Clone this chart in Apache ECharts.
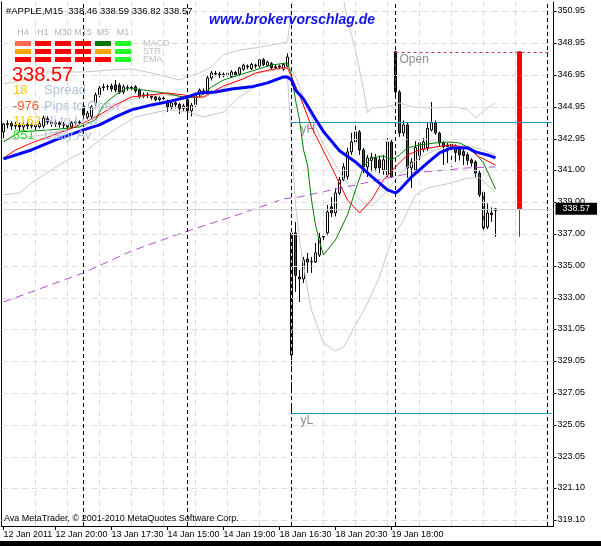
<!DOCTYPE html>
<html><head><meta charset="utf-8">
<script src="https://cdn.jsdelivr.net/npm/echarts@6/dist/echarts.min.js"></script>
<style>html,body{margin:0;padding:0;background:#fff;}#c{width:601px;height:546px;}</style>
</head><body><div id="c"></div>
<script>
// ---------- DATA ----------
const symbolTitle = '#APPLE,M15';
const lastBar = [338.46, 338.59, 336.82, 338.57]; // O H L C of the last bar
const nSlots = 138;
// candles: [open, close, low, high]
const ohlc = [
[343.38,343.88,343.00,343.95],[343.85,343.90,343.60,344.10],[343.90,343.75,343.50,344.05],[343.75,343.80,343.55,344.00],
[343.80,343.70,343.45,343.95],[343.70,343.85,343.50,344.00],[343.85,343.75,343.55,344.05],[343.75,343.80,343.60,343.95],
[343.80,343.70,343.50,343.95],[343.70,343.90,343.60,344.05],[343.75,344.25,343.60,344.40],[344.20,344.00,343.85,344.35],
[344.00,343.90,343.70,344.10],[343.90,343.95,343.70,344.10],[343.95,343.85,343.65,344.05],[343.85,343.80,343.60,344.00],
[343.80,343.70,343.55,343.90],[343.70,343.95,343.60,344.05],[343.95,344.00,343.80,344.15],[344.00,343.95,343.80,344.10],
[345.00,344.45,344.30,345.10],[344.30,344.55,344.10,344.70],[344.35,344.95,344.20,345.05],[345.20,345.70,345.00,345.85],
[345.70,346.13,345.55,346.30],[346.15,346.20,345.95,346.40],[346.20,346.22,346.00,346.35],[346.26,346.07,345.90,346.40],
[346.32,346.00,345.85,346.63],[346.30,345.88,345.75,346.45],[345.88,346.20,345.75,346.35],[346.15,346.13,345.95,346.30],
[346.13,346.16,346.00,346.30],[346.20,345.95,345.80,346.30],[346.00,345.57,345.45,346.10],[345.60,345.70,345.50,345.85],
[345.70,345.65,345.50,345.85],[345.65,345.55,345.40,345.75],[345.57,345.40,345.30,345.65],[345.40,345.50,345.30,345.60],
[345.50,345.45,345.30,345.60],[345.32,344.94,344.63,345.40],[344.95,345.20,344.80,345.30],[345.20,345.10,344.85,345.30],
[345.10,344.85,344.50,345.20],[344.85,345.00,344.70,345.15],[345.40,344.70,344.30,345.50],[344.70,345.05,344.35,345.20],
[345.10,345.80,344.95,345.95],[345.75,346.00,345.60,346.10],[345.95,345.90,345.70,346.10],[345.90,346.76,345.80,346.90],
[346.76,347.07,346.60,347.20],[347.05,347.00,346.85,347.20],[347.00,346.95,346.75,347.15],[346.95,346.98,346.80,347.10],
[346.98,347.05,346.85,347.20],[346.85,347.13,346.75,347.25],[347.10,346.95,346.85,347.20],[347.00,347.38,346.90,347.45],
[347.30,347.55,347.20,347.65],[347.50,347.45,347.30,347.60],[347.35,347.60,347.25,347.70],[347.55,347.50,347.35,347.65],
[347.50,347.89,347.40,347.95],[347.90,347.60,347.50,348.00],[347.55,347.75,347.45,347.85],[347.65,347.40,347.30,347.75],
[347.40,347.45,347.30,347.60],[347.45,347.50,347.30,347.60],[347.30,347.60,347.20,347.70],[347.50,348.07,347.45,348.30],
[329.42,337.06,325.79,337.30],[337.06,334.40,333.37,337.75],[334.30,334.18,332.74,334.74],[334.18,335.37,333.93,335.56],
[335.43,335.24,334.56,335.81],[335.25,335.27,334.56,335.56],[335.24,335.81,335.18,336.43],[335.68,336.75,335.56,337.06],
[336.80,336.85,336.43,337.10],[337.06,338.37,336.90,338.81],[338.69,338.31,338.06,339.30],[338.31,339.56,338.10,339.87],
[339.56,340.38,339.44,340.56],[340.38,341.19,340.30,341.44],[340.60,342.13,340.40,342.38],[342.13,342.75,341.94,343.32],
[342.75,343.38,342.50,343.94],[343.38,342.25,341.94,343.50],[342.25,341.19,340.81,342.38],[341.19,341.75,340.56,341.94],
[341.60,341.80,340.90,342.07],[341.75,341.13,340.90,342.00],[341.63,341.13,340.80,341.90],[341.00,341.63,340.70,341.94],
[340.69,342.75,340.56,343.00],[342.75,340.56,340.50,342.90],[348.39,345.88,345.50,348.45],[345.88,343.32,343.07,346.00],
[343.32,343.82,343.10,344.10],[343.82,341.13,340.50,344.00],[341.13,341.50,339.87,341.75],[341.00,342.40,340.70,342.80],
[341.90,342.70,341.40,342.90],[342.30,342.75,342.10,343.00],[342.40,343.60,342.20,344.00],[343.50,343.95,343.40,345.25],
[343.94,343.32,343.20,344.10],[343.30,342.69,342.50,343.40],[342.70,342.45,341.31,342.80],[342.45,342.55,341.44,342.70],
[342.60,342.40,341.19,342.75],[342.45,342.10,341.50,342.60],[342.30,341.95,341.60,342.45],[342.15,341.90,341.30,342.30],
[341.95,341.60,341.30,342.10],[341.63,341.44,341.20,341.75],[341.50,340.81,340.56,341.60],[340.81,339.44,339.30,340.95],
[339.60,337.37,337.20,339.75],[337.43,338.31,337.30,338.90],[338.30,338.20,337.75,338.65],[338.46,338.57,336.82,338.59]
];
// indicator lines: [barIndex, price]
const blueEMA = [[0,341.69],[7,342.25],[13,342.88],[20,343.51],[24,343.82],[28,344.32],[32,344.76],[37,345.07],[41,345.26],[46,345.57],[49,345.82],[53,345.88],[57,346.07],[62,346.20],[66,346.45],[70,346.82],[71,346.82],[72,346.63],[73,346.01],[75,345.44],[78,344.19],[80,343.40],[84,342.20],[88,341.50],[92,340.60],[96,339.75],[98,339.56],[99,339.75],[102,340.56],[106,341.44],[109,342.07],[112,342.38],[116,342.38],[118,342.13],[121,341.94],[123,341.75]];
const redEMA = [[0,341.75],[3,342.25],[7,342.69],[16,343.51],[20,343.94],[24,344.44],[28,345.07],[32,345.57],[37,345.70],[41,345.82],[45,345.70],[47,345.57],[50,345.57],[55,346.26],[60,346.70],[63,347.07],[69,347.38],[71,347.38],[74,345.70],[77,343.69],[82,341.19],[86,339.12],[89,338.31],[92,339.12],[95,340.38],[98,341.19],[101,341.94],[104,342.25],[108,342.44],[112,342.57],[116,342.38],[119,341.81],[123,341.31]];
const greenMA = [[0,342.75],[4,343.38],[12,343.51],[19,343.69],[23,344.13],[25,345.07],[28,345.70],[31,346.13],[35,346.01],[40,345.82],[46,345.51],[49,345.57],[52,346.20],[55,346.63],[59,346.95],[63,347.26],[67,347.57],[71,347.70],[72,346.95],[73,345.38],[74,344.13],[75,342.25],[76,341.31],[77,339.12],[78,337.56],[79,336.50],[80,335.68],[81,336.00],[83,336.62],[86,338.19],[88,339.75],[90,341.19],[92,341.75],[95,341.88],[97,341.63],[99,341.94],[101,342.38],[104,342.57],[108,342.69],[111,342.75],[114,342.69],[117,342.31],[120,341.44],[123,339.81]];
const bbUpper = [[0,346.38],[5,346.63],[10,347.13],[20,347.13],[27,347.26],[32,347.32],[37,347.07],[41,346.82],[44,346.63],[46,346.82],[49,347.07],[52,347.45],[55,348.20],[59,348.51],[63,348.64],[67,348.82],[71,349.01],[72,351.14],[73,353.20],[80,355.40],[84,352.90],[86,350.39],[88,348.51],[90,346.01],[91,344.57],[92,344.88],[96,344.94],[99,345.19],[102,344.94],[106,344.88],[113,344.94],[116,344.76],[118,344.26],[121,344.88],[123,345.19]];
const bbMiddle = [[0,342.88],[10,343.19],[20,343.76],[25,344.44],[30,345.26],[35,345.63],[40,345.70],[46,345.57],[50,345.51],[55,346.13],[60,346.76],[65,347.13],[71,347.38],[72,347.26],[73,346.82],[76,344.88],[80,342.57],[84,340.88],[88,339.44],[90,338.94],[92,338.75],[95,339.44],[98,340.38],[100,341.00],[104,341.75],[108,342.25],[112,342.44],[116,342.50],[120,342.25],[123,341.94]];
const bbLower = [[0,339.44],[4,339.56],[7,340.19],[12,341.00],[16,341.63],[21,342.25],[25,343.07],[33,344.32],[41,344.76],[46,344.63],[50,344.32],[55,344.63],[59,345.57],[63,346.20],[68,346.63],[71,346.76],[72,342.88],[73,338.81],[74,336.62],[76,333.49],[77,332.24],[80,330.17],[83,329.67],[85,329.92],[87,330.80],[91,332.68],[94,334.31],[97,336.62],[100,337.87],[103,339.44],[106,339.87],[112,340.19],[116,340.50],[119,340.50],[123,339.62]];
const slowMA = [[0,332.74],[7,333.37],[20,334.56],[32,335.93],[46,337.18],[57,338.06],[70,339.19],[74,339.31],[82,339.75],[94,340.38],[102,340.81],[111,341.00],[116,341.13],[123,341.19]];
// daily candle drawn at the right
const dailyIdx = 129;
const dailyOHLC = [348.39, 338.57, 336.82, 348.45];
// levels
const dayOpen = 348.39, yHigh = 344.00, yLow = 325.79;
const levelStart = 72, openStart = 98;
const separators = [20, 46, 72, 98, 136];
// axis ticks
const yTicks = [350.95,348.95,346.95,344.95,342.95,341.00,339.00,337.00,335.00,333.00,331.05,329.05,327.05,325.05,323.05,321.10,319.10];
const xLabelIdx = [0, 13, 27, 41, 55, 69, 83, 97];
const xLabels = ['12 Jan 2011','12 Jan 20:00','13 Jan 17:30','14 Jan 15:00','14 Jan 19:00','18 Jan 16:30','18 Jan 20:30','19 Jan 18:00'];
// info panel
const tfNames = ['H4','H1','M30','M15','M5','M1'];
const sigRows = ['MACD','STR','EMA'];
const sigColors = [
 ['#ff6a50','#ff0000','#ff0000','#ff0000','#007800','#22ff22'],
 ['#ffa500','#ff0000','#ff0000','#ff0000','#ffa500','#22ff22'],
 ['#ff0000','#ff0000','#ff0000','#ff0000','#ff0000','#22ff22']];
const infoValues = ['18','-976','1162','851'];
const infoLabels = ['Spread','Pips to Open','Hi to Low','Daily Av'];
const infoColors = ['#ffc800','#ff5a1e','#ffc800','#2ee62e'];
const website = 'www.brokervorschlag.de';
const copyright = 'Ava MetaTrader, \u00a9 2001-2010 MetaQuotes Software Corp.';

// ---------- CHART ----------
const FF = '"Liberation Sans", Arial, sans-serif';
const cats = Array.from({length: nSlots}, (_, i) => String(i));
const gridX = [];
for (let i = 8; i < nSlots; i += 8) gridX.push(i);
const lastClose = lastBar[3];
const dailyData = cats.map((_, i) => i === dailyIdx ? dailyOHLC : '-');
const isLbl = (i) => xLabelIdx.indexOf(i) >= 0;

function lineSeries(data, color, width, z, type) {
  return {type: 'line', data: data, symbol: 'none', showSymbol: false, z: z, silent: true,
    lineStyle: {color: color, width: width, type: type || 'solid'}, emphasis: {disabled: true}, animation: false};
}
const ml = {silent: true, symbol: ['none','none'], animation: false, label: {show: false}, emphasis: {disabled: true}};

const graphics = [];
const txt = (x, y, text, font, fill, align) => graphics.push({type: 'text', x: x, y: y, z: 100,
  style: {text: text, font: font, fill: fill, align: align || 'left', verticalAlign: 'middle'}});
txt(6, 11, symbolTitle + '  ' + lastBar.map(v => v.toFixed(2)).join(' '), '9.5px ' + FF, '#000');
txt(292, 20, website, 'italic bold 14px ' + FF, '#1414e6', 'center');
tfNames.forEach((n, k) => txt(23 + 20 * k, 33, n, '9px ' + FF, '#b4b4b4', 'center'));
sigColors.forEach((row, r) => row.forEach((c, k) => graphics.push({type: 'rect', z: 100,
  shape: {x: 15 + 20 * k, y: 41 + 8 * r, width: 16, height: 5}, style: {fill: c}})));
sigRows.forEach((n, r) => txt(143, 43.5 + 8 * r, n, '9px ' + FF, '#c0c0c0'));
txt(12, 75, lastClose.toFixed(2), '20px ' + FF, '#ff0000');
infoValues.forEach((v, r) => {
  const y = [90, 106, 121, 135][r];
  txt(13, y, v, '13px ' + FF, infoColors[r]);
  txt(44, y, infoLabels[r], '13px ' + FF, '#b0c4de');
});
txt(4, 519, copyright, '9px ' + FF, '#000');
graphics.push({type: 'rect', z: 100, shape: {x: 0, y: 541, width: 601, height: 5}, style: {fill: '#000'}});

const option = {
  animation: false,
  backgroundColor: '#fff',
  grid: {left: 1.5, right: 47.5, top: 2, bottom: 20, show: false},
  xAxis: {type: 'category', data: cats, boundaryGap: true,
    axisLine: {show: true, lineStyle: {color: '#000', width: 1}},
    axisTick: {show: true, alignWithLabel: true, interval: (i) => isLbl(i), length: 4, lineStyle: {color: '#000'}},
    axisLabel: {interval: (i) => isLbl(i), formatter: (v, i) => xLabels[xLabelIdx.indexOf(+v)] || '',
      align: 'left', color: '#000', fontFamily: FF, fontSize: 9, margin: 4},
    splitLine: {show: false}},
  yAxis: [
    {type: 'value', position: 'right', min: 318.72, max: 351.51,
      axisLine: {show: true, lineStyle: {color: '#000', width: 1}},
      axisTick: {show: true, customValues: yTicks, length: 3, lineStyle: {color: '#000'}},
      axisLabel: {customValues: yTicks, formatter: (v) => v.toFixed(2), color: '#000', fontFamily: FF, fontSize: 9, margin: 4},
      splitLine: {show: false}},
    {type: 'value', position: 'left', min: 318.72, max: 351.51,
      axisLine: {show: true, lineStyle: {color: '#000', width: 1}},
      axisTick: {show: false}, axisLabel: {show: false}, splitLine: {show: false}}
  ],
  graphic: {elements: graphics},
  series: [
    {type: 'line', data: [], z: 1, markLine: Object.assign({}, ml, {
      lineStyle: {color: '#dcdcdc', type: [6, 4], width: 1},
      data: yTicks.map(v => ({yAxis: v})).concat(gridX.map(i => ({xAxis: i})))})},
    {type: 'line', data: [], z: 1, markLine: Object.assign({}, ml, {
      lineStyle: {color: '#000', type: [4, 3], width: 1},
      data: separators.map(i => ({xAxis: i}))})},
    {type: 'line', data: [], z: 2, markLine: Object.assign({}, ml, {
      lineStyle: {color: '#d0d2da', type: 'solid', width: 1},
      label: {show: true, position: 'end', formatter: lastClose.toFixed(2), color: '#fff', backgroundColor: '#000',
        padding: [2, 7, 1, 7], fontFamily: FF, fontSize: 9, distance: 2},
      data: [{yAxis: lastClose}]})},
    {type: 'candlestick', data: ohlc, barWidth: 2, z: 3, silent: true,
      itemStyle: {color: '#ffffff', color0: '#ff0000', borderColor: '#000', borderColor0: '#000', borderWidth: 1}},
    {type: 'candlestick', data: dailyData, barWidth: 4, z: 3, silent: true,
      itemStyle: {color: '#ff0000', color0: '#ff0000', borderColor: '#b42020', borderColor0: '#b42020', borderWidth: 1}},
    lineSeries(bbUpper, '#c8c8c8', 1, 4),
    lineSeries(bbMiddle, '#c8c8c8', 1, 4),
    lineSeries(bbLower, '#c8c8c8', 1, 4),
    lineSeries(slowMA, '#b450d2', 1, 4, [8, 5]),
    lineSeries(greenMA, '#008000', 1, 5),
    lineSeries(redEMA, '#ff0000', 1, 5),
    lineSeries(blueEMA, '#0000ff', 3, 6),
    {type: 'line', data: [], z: 6, markLine: Object.assign({}, ml, {
      label: {show: true, position: 'insideStartBottom', color: '#8c8c8c', fontFamily: FF, fontSize: 12, distance: [9, 2]},
      data: [
        [{coord: [levelStart, yHigh], lineStyle: {color: '#1e9bb4', type: 'solid', width: 1}, label: {formatter: 'yH'}}, {coord: [nSlots - 1, yHigh]}],
        [{coord: [levelStart, yLow], lineStyle: {color: '#1e9bb4', type: 'solid', width: 1}, label: {formatter: 'yL'}}, {coord: [nSlots - 1, yLow]}],
        [{coord: [openStart, dayOpen], lineStyle: {color: '#c0307a', type: [3, 3], width: 1}, label: {formatter: 'Open', distance: [4, 2]}}, {coord: [nSlots - 1, dayOpen]}]
      ]})}
  ]
};
const chart = echarts.init(document.getElementById('c'), null, {renderer: 'canvas', width: 601, height: 546});
chart.setOption(option);
</script>
</body></html>
